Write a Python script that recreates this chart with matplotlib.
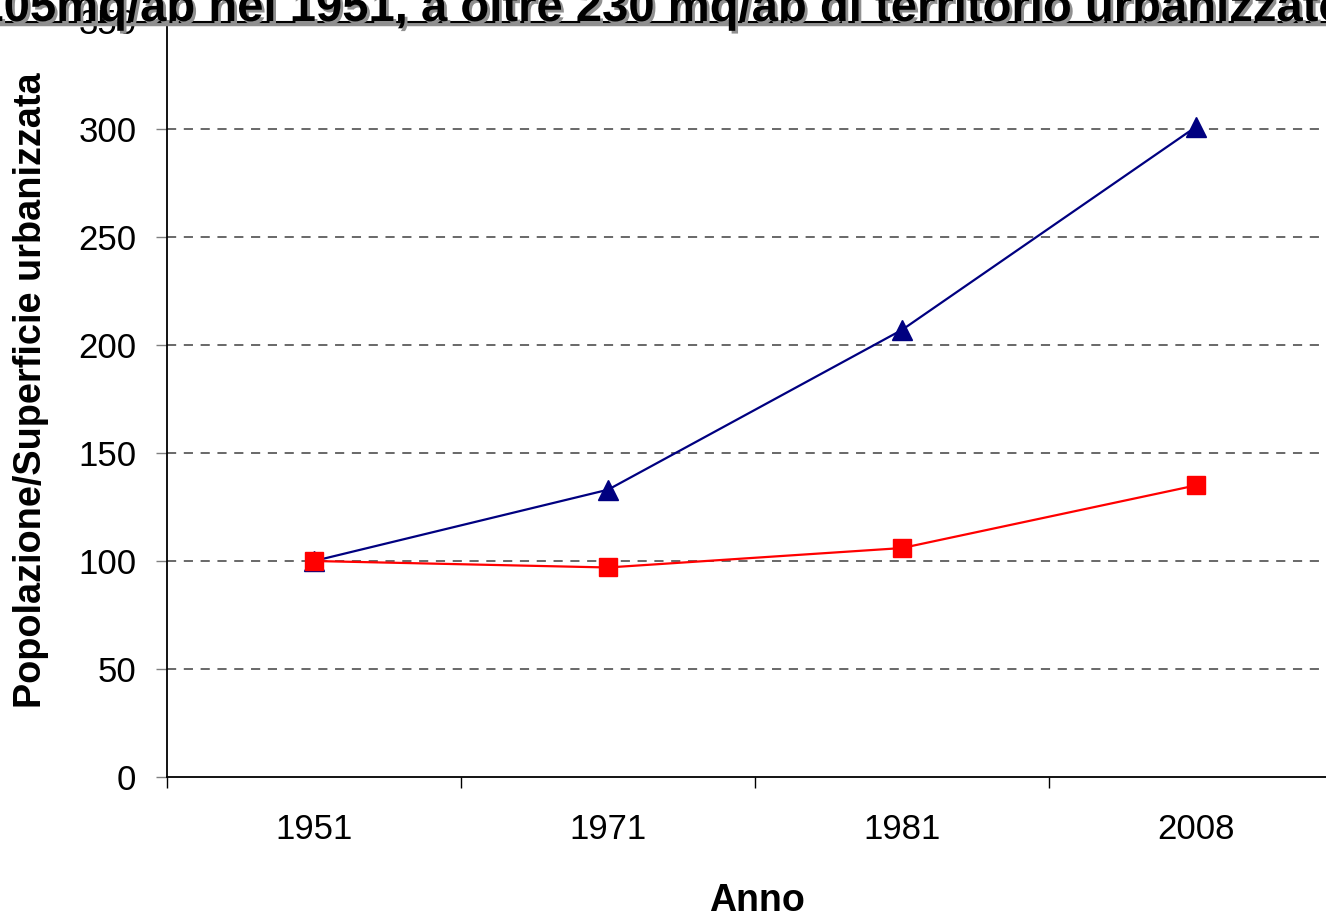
import matplotlib
matplotlib.use("Agg")
import matplotlib.pyplot as plt
import matplotlib.patheffects as pe
from matplotlib.ticker import FixedLocator, NullFormatter

# --- data --------------------------------------------------------------
years = ["1951", "1971", "1981", "2008"]
superficie = [100, 133, 207, 301]   # blue triangles
popolazione = [100, 97, 106, 135]   # red squares
y_ticks = [0, 50, 100, 150, 200, 250, 300, 350]

TITLE = "105mq/ab nel 1951, a oltre 230 mq/ab di territorio urbanizzato"
NAVY = "#000080"
RED = "#FF0000"

plt.rcParams.update({
    "font.family": ["Liberation Sans", "DejaVu Sans"],
})

W, H = 1326, 917
fig = plt.figure(figsize=(W / 100, H / 100), dpi=100)
fig.patch.set_facecolor("white")

# axes: left spine at x=167, zero at y=777, 350 at y=21; right edge runs off canvas
x0, x1 = 167, 1343
ax = fig.add_axes([x0 / W, 1 - 777 / H, (x1 - x0) / W, (777 - 21) / H])

xs = list(range(len(years)))
ax.plot(xs, superficie, color=NAVY, lw=1.6, marker="^", ms=15,
        mec=NAVY, mfc=NAVY, zorder=3, clip_on=False)
ax.plot(xs, popolazione, color=RED, lw=1.6, marker="s", ms=13,
        mec=RED, mfc=RED, zorder=4, clip_on=False)

ax.set_xlim(-0.5, len(years) - 0.5)
ax.set_ylim(0, 350)

# grid
for v in y_ticks[1:-1]:
    ax.axhline(v, color="#404040", lw=1.1, ls=(0, (6, 5)), zorder=1)

ax.set_yticks(y_ticks)
ax.tick_params(axis="y", labelsize=25, length=8, width=1, color="#808080",
               pad=14)
ax.set_xticks(xs)
ax.set_xticklabels(years)
ax.xaxis.set_minor_locator(FixedLocator([i - 0.5 for i in range(len(years) + 1)]))
ax.xaxis.set_minor_formatter(NullFormatter())
ax.tick_params(axis="x", which="major", length=0, labelsize=25, pad=26)
ax.tick_params(axis="x", which="minor", length=8, width=1, color="black")

for s in ("top", "right"):
    ax.spines[s].set_visible(False)
ax.spines["left"].set_linewidth(1.3)
ax.spines["bottom"].set_linewidth(1.3)

fig.text(31 / W, 1 - 390 / H, "Popolazione/Superficie urbanizzata",
         rotation=90, ha="center", va="center", fontsize=27.3,
         fontweight="bold")
fig.text(757 / W, 1 - 911 / H, "Anno", ha="center", va="baseline",
         fontsize=27, fontweight="bold")

# title, clipped at the top and both sides as in the reference
shadow = [pe.withSimplePatchShadow(offset=(2, -2), shadow_rgbFace="#909090",
                                   alpha=1.0)]
fig.text(0.5, 1 - 21 / H, TITLE, ha="center", va="baseline", fontsize=34,
         fontweight="bold", path_effects=shadow, zorder=10)
fig.add_artist(plt.Line2D([0, 1], [1 - 24 / H, 1 - 24 / H], color="#909090",
                          lw=2.5, transform=fig.transFigure, zorder=9))
fig.add_artist(plt.Line2D([0, 1], [1 - 22 / H, 1 - 22 / H], color="black",
                          lw=1.5, transform=fig.transFigure, zorder=9.5))

fig.savefig("out.png", dpi=100)
